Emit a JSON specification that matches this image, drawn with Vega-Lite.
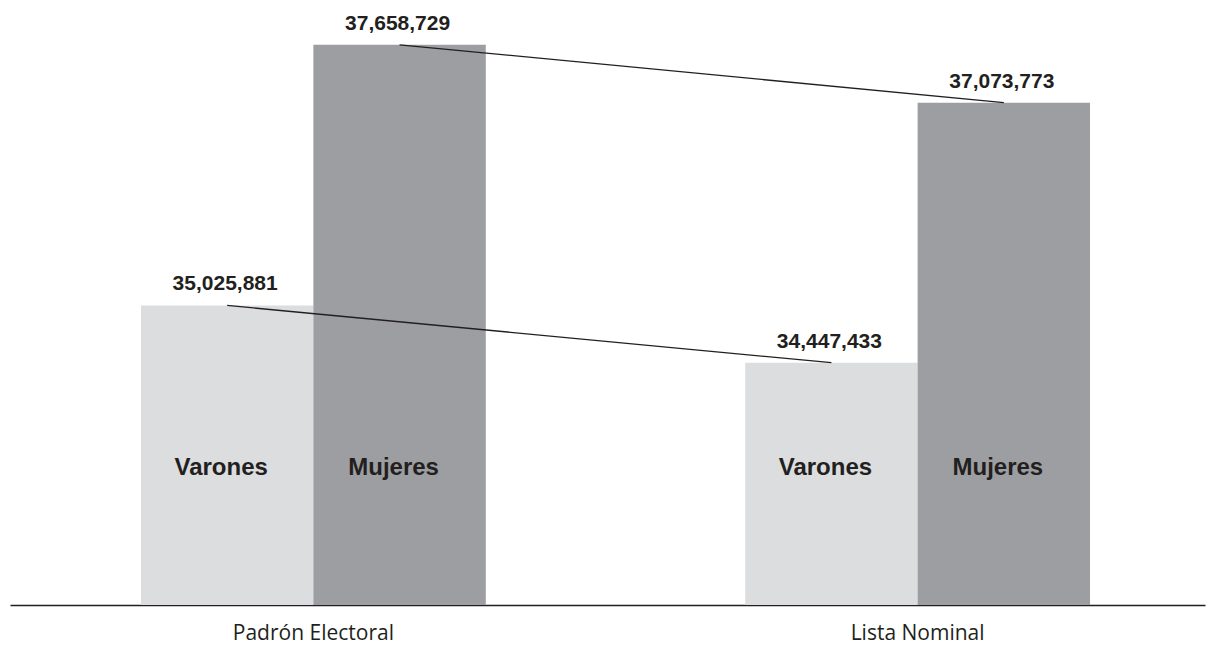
{
  "$schema": "https://vega.github.io/schema/vega-lite/v6.json",
  "width": 1195,
  "height": 594,
  "autosize": "none",
  "padding": {"left": 10, "top": 11, "right": 1, "bottom": 40},
  "background": "white",
  "config": {"view": {"stroke": null}},
  "data": {
    "values": [
      {"grupo": "Padrón Electoral", "sexo": "Varones", "valor": 35025881},
      {"grupo": "Padrón Electoral", "sexo": "Mujeres", "valor": 37658729},
      {"grupo": "Lista Nominal", "sexo": "Varones", "valor": 34447433},
      {"grupo": "Lista Nominal", "sexo": "Mujeres", "valor": 37073773}
    ]
  },
  "encoding": {
    "x": {
      "field": "grupo",
      "type": "nominal",
      "sort": ["Padrón Electoral", "Lista Nominal"],
      "scale": {"paddingInner": 0.4293, "paddingOuter": 0.2035, "align": 0.5325},
      "axis": {
        "title": null,
        "labelAngle": 0,
        "ticks": false,
        "tickSize": 0,
        "domainColor": "#231f20",
        "domainWidth": 1.5,
        "labelFont": "Open Sans",
        "labelFontSize": 21,
        "labelColor": "#231f20",
        "labelPadding": 34,
        "labelBaseline": "alphabetic"
      }
    },
    "xOffset": {
      "field": "sexo",
      "type": "nominal",
      "sort": ["Varones", "Mujeres"],
      "scale": {"paddingInner": 0, "paddingOuter": 0}
    },
    "y": {
      "field": "valor",
      "type": "quantitative",
      "scale": {"domain": [32000000, 38000000], "zero": false, "nice": false},
      "axis": null
    }
  },
  "layer": [
    {
      "mark": {"type": "bar", "clip": true},
      "encoding": {
        "color": {
          "field": "sexo",
          "type": "nominal",
          "scale": {"domain": ["Varones", "Mujeres"], "range": ["#dcdddf", "#9d9ea2"]},
          "legend": null
        }
      }
    },
    {
      "mark": {"type": "line", "color": "#231f20", "strokeWidth": 1.3},
      "encoding": {"detail": {"field": "sexo", "type": "nominal"}}
    },
    {
      "mark": {"type": "text", "font": "Liberation Sans", "fontWeight": "bold", "fontSize": 21, "dy": -15, "dx": -2, "baseline": "alphabetic", "color": "#231f20"},
      "encoding": {"text": {"field": "valor", "type": "quantitative", "format": ","}}
    },
    {
      "mark": {"type": "text", "font": "Liberation Sans", "fontWeight": "bold", "fontSize": 24, "dx": -6, "baseline": "alphabetic", "color": "#231f20"},
      "encoding": {"text": {"field": "sexo", "type": "nominal"}, "y": {"datum": 33313000}}
    }
  ]
}
